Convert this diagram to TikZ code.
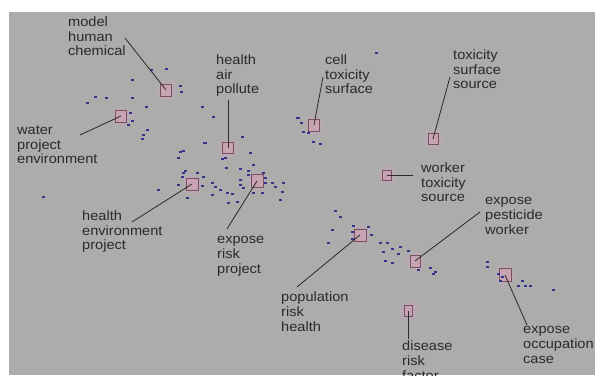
\documentclass[tikz,border=0pt]{standalone}
\usepackage{fontspec}
\newfontfamily\wordfont[FakeStretch=1.08]{Liberation Sans}
\usetikzlibrary{positioning}
\definecolor{bg}{RGB}{172,172,170}
\definecolor{ink}{RGB}{42,42,42}
\definecolor{hubfill}{RGB}{200,163,177}
\definecolor{hubline}{RGB}{122,78,98}
\definecolor{glow}{RGB}{196,168,188}
\definecolor{dotblue}{RGB}{52,52,140}
\tikzset{
word/.style={anchor=base west, align=left, inner sep=0pt, text=ink,
  font=\wordfont\fontsize{13.5}{14.7}\selectfont},
hub/.style={draw=hubline, fill=hubfill, line width=0.6pt,
  minimum width=11pt, minimum height=12pt, inner sep=0pt},
lead/.style={draw=ink, line width=0.8pt},
speck/.style={fill=dotblue},
}

\begin{document}
\begin{tikzpicture}[x=1pt,y=-1pt]
        \useasboundingbox (0,0) rectangle (595,377);
        \clip (9,12) rectangle (595,375);
        \fill[bg] (9,12) rectangle (595,375);

        % clusters
        \foreach \n/\x/\y/\w/\h in {mhc/166/90/11/12, wpe/121/116/11/12, hap/228/148/11/11,
                hep/192/184/12/12, erp/257/181/12/13, cts/314/125/11/12,
                tss/433/139/10/11, wts/387/175/9/10, epw/415/261/10/12,
                prh/360/235/12/12, drf/408/311/8/11, eoc/505/275/12/13}{
            \shade[inner color=glow, outer color=bg] (\x,\y) circle (13);
            \node[hub, minimum width=\w pt, minimum height=\h pt] (\n) at (\x,\y) {};
        }

        % terms
        \foreach \p in {(151,70),(166,69),(132,80),(180,86),(181,92),(95,97),(106,98),
                (132,98),(87,103),(146,107),(202,107),(213,117),(130,113),(132,121),
                (128,125),(147,130),(143,135),(142,139),(242,137),(204,143),(250,153),
                (180,152),(178,158),(222,159),(297,118),(205,143),(183,151),(225,158),
                (226,168),(253,165),(240,169),(248,171),(185,171),(183,173),(197,173),
                (203,177),(182,177),(158,190),(178,185),(202,186),(212,183),(215,187),
                (220,190),(212,195),(227,193),(232,194),(187,198),(240,180),(240,185),
                (243,188),(248,175),(263,173),(265,178),(272,183),(275,187),(282,192),
                (283,183),(265,183),(253,193),(262,193),(237,202),(280,200),(228,203),
                (43,197),(376,53),(298,118),(301,123),(303,132),(308,133),(313,142),
                (320,144),(335,211),(340,217),(332,230),(328,243),(353,226),(368,227),
                (371,235),(352,232),(352,239),(380,243),(387,243),(383,252),(392,249),
                (400,247),(398,254),(408,251),(385,261),(392,263),(418,270),(430,268),
                (433,274),(435,272),(487,262),(487,267),(498,274),(502,277),(500,281),
                (522,281),(525,286),(530,286),(518,286),(553,290)}
            \fill[speck] \p ++(-1.5,-0.8) rectangle ++(3,1.6);

        % labels (base = last line)
        \node[word] (mhcTxt) at (68,56) {model\\human\\chemical};
        \node[word] (wpeTxt) at (17,164) {water\\project\\environment};
        \node[word] (hapTxt) at (216,94) {health\\air\\pollute};
        \node[word] (hepTxt) at (82,250) {health\\environment\\project};
        \node[word] (erpTxt) at (217,273) {expose\\risk\\project};
        \node[word] (ctsTxt) at (325,94) {cell\\toxicity\\surface};
        \node[word] (tssTxt) at (453,89) {toxicity\\surface\\source};
        \node[word] (wtsTxt) at (421,202) {worker\\toxicity\\source};
        \node[word] (epwTxt) at (485,234) {expose\\pesticide\\worker};
        \node[word] (prhTxt) at (281,331) {population\\risk\\health};
        \node[word] (drfTxt) at (402,380) {disease\\risk\\factor};
        \node[word] (eocTxt) at (523,363) {expose\\occupation\\case};

        \coordinate (mhcTip) at (125,38);
        \coordinate (wpeTip) at (80,135);
        \coordinate (hapTip) at (228,100);
        \coordinate (hepTip) at (132,222);
        \coordinate (erpTip) at (227,229);
        \coordinate (ctsTip) at (323,77);
        \coordinate (tssTip) at (450,77);
        \coordinate (wtsTip) at (413,175);
        \coordinate (epwTip) at (480,212);
        \coordinate (prhTip) at (297,287);
        \coordinate (drfTip) at (408,339);
        \coordinate (eocTip) at (527,325);

        \foreach \n in {mhc,wpe,hap,hep,erp,cts,tss,wts,epw,prh,drf,eoc}
            \draw[lead] (\n Tip) -- (\n.center);
    \end{tikzpicture}
\end{document}
